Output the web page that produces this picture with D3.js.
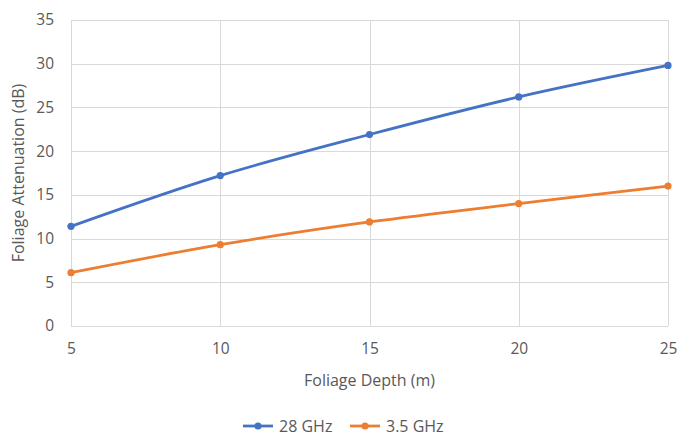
<!DOCTYPE html>
<html>
<head>
<meta charset="utf-8">
<script src="https://cdn.jsdelivr.net/npm/d3@7"></script>
<style>
  html, body { margin: 0; padding: 0; background: #fff; }
  svg text { font-family: "Open Sans", "Liberation Sans", sans-serif; fill: #595959; }
</style>
</head>
<body>
<svg id="chart" width="688" height="436"></svg>
<script>
// Foliage depth in metres
const depths = [5, 10, 15, 20, 25];
// Attenuation in dB for each carrier frequency
const att28GHz = [11.4, 17.2, 21.9, 26.2, 29.8];
const att35GHz = [6.1, 9.3, 11.9, 14.0, 16.0];
const seriesNames = ["28 GHz", "3.5 GHz"];
const yTicks = [0, 5, 10, 15, 20, 25, 30, 35];
const xTicks = [5, 10, 15, 20, 25];

const colors = ["#4472C4", "#ED7D31"];
const series = [att28GHz, att35GHz];

const svg = d3.select("#chart");
const plot = { left: 71, right: 668, top: 20, bottom: 326 };

const x = d3.scaleLinear().domain([5, 25]).range([plot.left, plot.right]);
const y = d3.scaleLinear().domain([0, 35]).range([plot.bottom, plot.top]);

// Gridlines
const grid = svg.append("g");
grid.selectAll("line.h").data(yTicks).join("line")
  .attr("x1", plot.left).attr("x2", plot.right)
  .attr("y1", d => Math.round(y(d)) + 0.5).attr("y2", d => Math.round(y(d)) + 0.5)
  .attr("stroke", "#D9D9D9").attr("stroke-width", 1);
grid.selectAll("line.v").data(xTicks).join("line")
  .attr("y1", plot.top).attr("y2", plot.bottom)
  .attr("x1", d => Math.round(x(d)) + 0.5).attr("x2", d => Math.round(x(d)) + 0.5)
  .attr("stroke", "#D9D9D9").attr("stroke-width", 1);

// Axes (labels only)
const yAxis = d3.axisLeft(y).tickValues(yTicks).tickSize(0).tickPadding(0);
const gy = svg.append("g").attr("transform", `translate(${plot.left - 17},0)`).call(yAxis);
gy.select(".domain").remove();
gy.selectAll("text").attr("font-size", 15.5).style("fill", "#595959")
  .style("font-family", "'Open Sans', sans-serif");

const xAxis = d3.axisBottom(x).tickValues(xTicks).tickSize(0).tickPadding(0);
const gx = svg.append("g").attr("transform", `translate(0,${plot.bottom + 17})`).call(xAxis);
gx.select(".domain").remove();
gx.selectAll("text").attr("font-size", 15.5).style("fill", "#595959")
  .style("font-family", "'Open Sans', sans-serif");

// Axis titles
svg.append("text")
  .attr("transform", `translate(24,${(plot.top + plot.bottom) / 2}) rotate(-90)`)
  .attr("text-anchor", "middle").attr("font-size", 16)
  .text("Foliage Attenuation (dB)");
svg.append("text")
  .attr("x", (plot.left + plot.right) / 2).attr("y", 386)
  .attr("text-anchor", "middle").attr("font-size", 16)
  .text("Foliage Depth (m)");

// Smoothed series lines with markers
const line = d3.line()
  .x((d, i) => x(depths[i]))
  .y(d => y(d))
  .curve(d3.curveCatmullRom.alpha(0.5));

series.forEach((vals, s) => {
  svg.append("path").datum(vals)
    .attr("d", line).attr("fill", "none")
    .attr("stroke", colors[s]).attr("stroke-width", 2.75)
    .attr("stroke-linecap", "round");
  svg.append("g").selectAll("circle").data(vals).join("circle")
    .attr("cx", (d, i) => x(depths[i])).attr("cy", d => y(d))
    .attr("r", 3.6).attr("fill", colors[s]);
});

// Legend
const legend = svg.append("g");
const legendX = [243, 350];
seriesNames.forEach((name, s) => {
  const lx = legendX[s], ly = 426;
  legend.append("line")
    .attr("x1", lx).attr("x2", lx + 30).attr("y1", ly).attr("y2", ly)
    .attr("stroke", colors[s]).attr("stroke-width", 2.75);
  legend.append("circle").attr("cx", lx + 15).attr("cy", ly).attr("r", 3.6).attr("fill", colors[s]);
  legend.append("text").attr("x", lx + 36).attr("y", ly + 5.5)
    .attr("font-size", 16).text(name);
});
</script>
</body>
</html>
